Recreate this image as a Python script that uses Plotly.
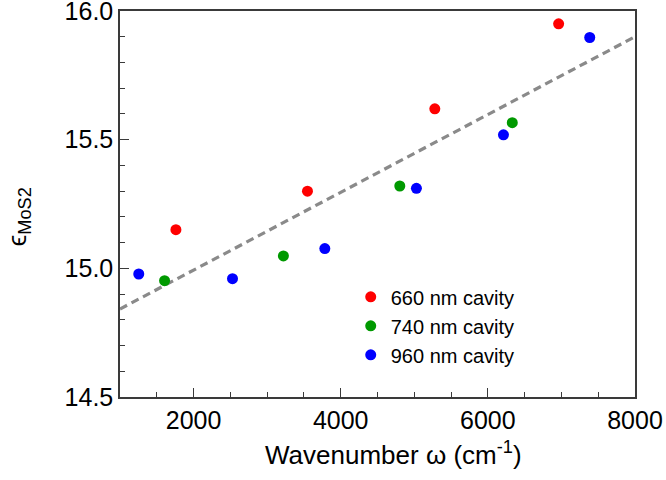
import plotly.graph_objects as go

# ---- data ----
x_660 = [1760, 3548, 5279, 6962]
y_660 = [15.15, 15.30, 15.62, 15.95]

x_740 = [1606, 3221, 4803, 6332]
y_740 = [14.952, 15.048, 15.32, 15.566]

x_960 = [1255, 2529, 3784, 5029, 6212, 7385]
y_960 = [14.978, 14.96, 15.077, 15.311, 15.519, 15.897]

fit_x = [1000, 8000]
fit_y = [14.842, 15.90]

series_names = ["660 nm cavity", "740 nm cavity", "960 nm cavity"]
series_colors = ["#ff0000", "#009900", "#0000ff"]

x_ticks = [2000, 4000, 6000, 8000]
y_ticks = [14.5, 15.0, 15.5, 16.0]

FONT = "Liberation Sans, Arial, Helvetica, sans-serif"

fig = go.Figure()

fig.add_trace(go.Scatter(
    x=fit_x, y=fit_y, mode="lines",
    line=dict(color="#8a8a8a", width=3.2, dash="8px,5px"),
    showlegend=False, hoverinfo="skip"))

for xs, ys, name, col in zip([x_660, x_740, x_960], [y_660, y_740, y_960],
                             series_names, series_colors):
    fig.add_trace(go.Scatter(
        x=xs, y=ys, mode="markers", name=name,
        marker=dict(color=col, size=11, line=dict(width=0))))

axis_common = dict(
    showline=True, linecolor="#3a3a3a", linewidth=1.5, mirror=True,
    ticks="inside", ticklen=9, tickwidth=1.2, tickcolor="#3a3a3a",
    showgrid=False, zeroline=False,
    tickfont=dict(family=FONT, size=25, color="#000000"),
    ticklabeloverflow="allow",
    automargin=False,
)

fig.update_xaxes(
    range=[1000, 8000], tickvals=x_ticks, ticktext=[str(v) for v in x_ticks],
    minor=dict(dtick=500, tick0=1000, ticks="inside", ticklen=5,
               tickwidth=1.2, tickcolor="#3a3a3a"),
    ticklabelstandoff=0,
    **axis_common)

fig.update_yaxes(
    range=[14.5, 16.0], tickvals=y_ticks, ticktext=[f"{v:.1f}" for v in y_ticks],
    minor=dict(dtick=0.1, tick0=14.5, ticks="inside", ticklen=5,
               tickwidth=1.2, tickcolor="#3a3a3a"),
    ticklabelstandoff=0,
    **axis_common)

fig.add_annotation(
    text="Wavenumber ω (cm<sup>-1</sup>)", xref="paper", yref="paper",
    x=0.532, y=-0.147, xanchor="center", yanchor="middle", showarrow=False,
    font=dict(family=FONT, size=26, color="#000000"))

fig.add_annotation(
    text="ϵ<sub>MoS2</sub>", xref="paper", yref="paper",
    x=-0.198, y=0.466, xanchor="center", yanchor="middle", showarrow=False,
    textangle=-90, font=dict(family=FONT, size=26, color="#000000"))

fig.update_layout(
    width=666, height=480,
    margin=dict(l=120, r=31, t=11, b=83),
    paper_bgcolor="white", plot_bgcolor="white",
    legend=dict(x=0.448, y=0.31, xanchor="left", yanchor="top",
                bgcolor="rgba(0,0,0,0)", borderwidth=0,
                font=dict(family=FONT, size=20, color="#000000"),
                itemsizing="trace", tracegroupgap=0),
    font=dict(family=FONT),
)

fig.write_html("out.html")
